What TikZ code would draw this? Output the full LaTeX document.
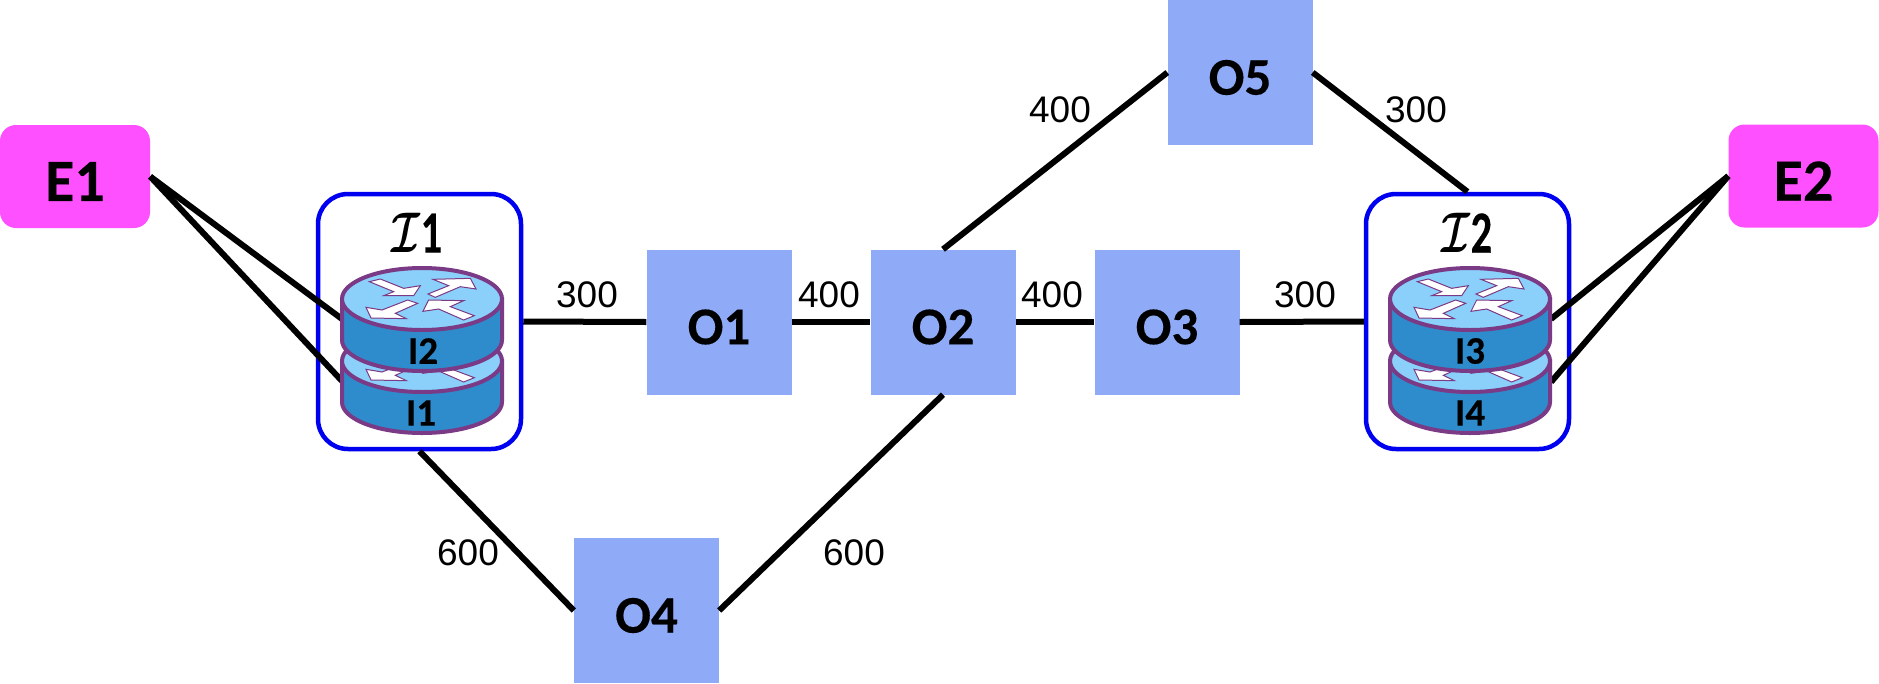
\documentclass[tikz,border=0pt]{standalone}
\usepackage{amsmath,amssymb}
\usepackage{fontspec}
\setmainfont{Carlito}
\newfontfamily\numfont{Liberation Sans}
\newfontfamily\headfont[FakeBold=0.3]{Carlito Bold}
\definecolor{extpink}{HTML}{FF50FF}
\definecolor{optblue}{HTML}{8FABF7}
\definecolor{ixblue}{HTML}{0000F0}
\definecolor{rtop}{HTML}{8AD0FA}
\definecolor{rbody}{HTML}{2E8BCC}
\definecolor{rline}{HTML}{7B3A85}
\newcommand{\routerat}[2]{%
  \begin{scope}[shift={(#1,#2)}]
    \draw[rline,line width=4pt,fill=rbody] (-80,0) -- (-80,41) arc[start angle=180,end angle=0,x radius=80,y radius=31] -- (80,0) -- cycle;
    \draw[rline,line width=4pt,fill=rtop] (0,0) ellipse[x radius=80,y radius=31];
    \begin{scope}[x=0.3333pt,y=-0.3333pt,rline,fill=white,line width=1pt,line join=miter]
      \filldraw (-158,-52) -- (-125,-60) -- (-55,-32) -- (-5,-40) -- (-25,-10) -- (-115,-10) -- (-85,-22) -- cycle;
      \filldraw (18,-15) -- (80,-40) -- (33,-59) -- (145,-62) -- (162,-30) -- (115,-37) -- (40,-5) -- cycle;
      \filldraw (-43,3) -- (-13,13) -- (-80,43) -- (-47,59) -- (-153,57) -- (-168,25) -- (-120,33) -- cycle;
      \filldraw (3,37) -- (20,3) -- (125,5) -- (85,23) -- (157,50) -- (125,63) -- (50,30) -- cycle;
    \end{scope}
  \end{scope}}
\newcommand{\scriptI}{\scalebox{1.6}[2.3]{$\boldsymbol{\mathcal{I}}$}}
\newcommand{\tallnum}[1]{\scalebox{0.85}[1.2]{#1}}
\newcommand{\lowered}[1]{\raisebox{-5pt}[\height][\depth]{#1}}
\tikzset{
  optbox/.style={draw=none,fill=optblue,minimum width=145pt,minimum height=145pt,inner sep=0pt,font=\fontsize{53pt}{53pt}\selectfont\headfont},
  extbox/.style={draw=none,fill=extpink,rounded corners=16pt,minimum width=150pt,minimum height=103pt,inner sep=0pt,font=\fontsize{60pt}{60pt}\selectfont\headfont},
  ixbox/.style={draw=ixblue,line width=4.5pt,fill=white,rounded corners=30pt,minimum width=203pt,minimum height=255pt,inner sep=0pt},
  link/.style={line width=6pt,black},
  weight/.style={inner sep=0pt,font=\fontsize{37pt}{37pt}\selectfont\numfont},
  rlabel/.style={inner sep=0pt,font=\fontsize{39pt}{39pt}\selectfont\headfont},
  ixlabel/.style={inner sep=0pt,font=\fontsize{50pt}{50pt}\selectfont\headfont}
}
\begin{document}
\begin{tikzpicture}[x=1pt,y=-1pt]
\useasboundingbox (0,0) rectangle (1879,683);
% boxes
\node[ixbox] (X1) at (419.5,321.5) {};
\node[ixbox] (X2) at (1467.5,321.5) {};
\node[extbox] (E1) at (75,176.5) {\lowered{E1}};
\node[extbox] (E2) at (1803.5,176) {\lowered{E2}};
\node[optbox] (O1) at (719,322) {\lowered{O1}};
\node[optbox] (O2) at (943,322) {\lowered{O2}};
\node[optbox] (O3) at (1167,322) {\lowered{O3}};
\node[optbox] (O4) at (646.5,610.5) {\lowered{O4}};
\node[optbox] (O5) at (1240,72.5) {\lowered{O5}};
% ports on the routers
\coordinate (I2p) at (342,319);
\coordinate (I1p) at (342,381);
\coordinate (I3p) at (1551,319);
\coordinate (I4p) at (1551,382);
% links
\draw[link] (E1.east) -- (I2p);
\draw[link] (E1.east) -- (I1p);
\draw[link] (E2.west) -- (I3p);
\draw[link] (E2.west) -- (I4p);
\draw[link] (X1.east) -- (O1.west);
\draw[link] (O1.east) -- (O2.west);
\draw[link] (O2.east) -- (O3.west);
\draw[link] (O3.east) -- (X2.west);
\draw[link] (O2.north) -- (O5.west);
\draw[link] (O5.east) -- (X2.north);
\draw[link] (X1.south) -- (O4.west);
\draw[link] (O4.east) -- (O2.south);
% routers
\routerat{422}{361}
\routerat{422}{299}
\routerat{1470}{361}
\routerat{1470}{299}
\node[rlabel] (I2) at (423,351) {I2};
\node[rlabel] (I1) at (421,413) {I1};
\node[rlabel] (I3) at (1470,351) {I3};
\node[rlabel] (I4) at (1470,413) {I4};
\node[ixlabel] (L1) at (417,233) {\scriptI\tallnum{1}};
\node[ixlabel] (L2) at (1467,233) {\scriptI\tallnum{2}};
% weights
\node[weight] (w1) at (587,295) {300};
\node[weight] (w2) at (829,295) {400};
\node[weight] (w3) at (1052,295) {400};
\node[weight] (w4) at (1305,295) {300};
\node[weight] (w5) at (468,553) {600};
\node[weight] (w6) at (854,553) {600};
\node[weight] (w7) at (1060,110) {400};
\node[weight] (w8) at (1416,110) {300};
\end{tikzpicture}
\end{document}
